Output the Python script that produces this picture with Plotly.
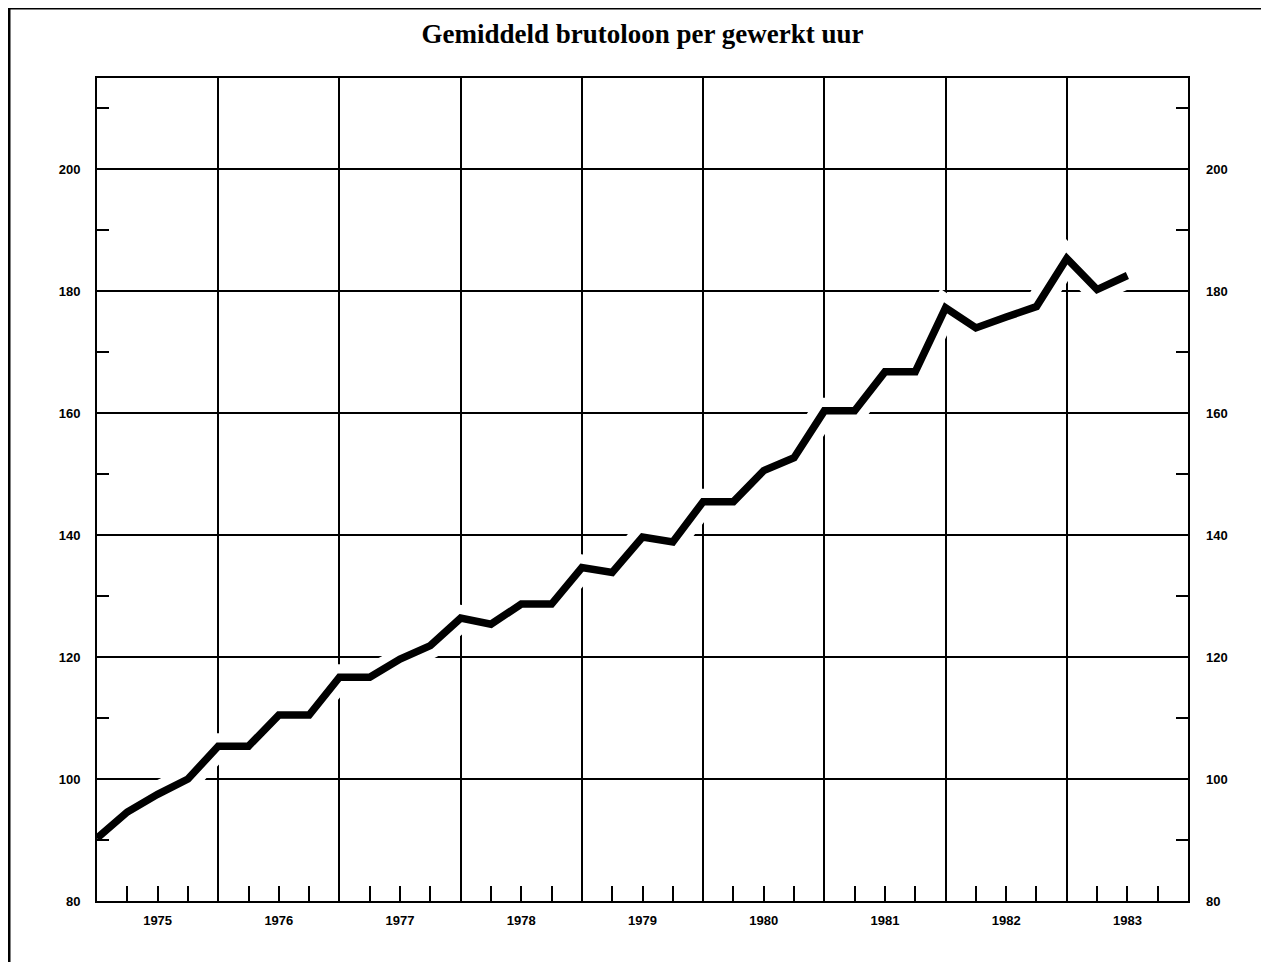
import plotly.graph_objects as go

# ---- data (quarterly, 1975 Q1 .. 1983 Q3) ----
years = list(range(1975, 1984))
quarters_per_year = 4
values = [90.3, 94.6, 97.5, 100.0,
          105.4, 105.4, 110.5, 110.5,
          116.7, 116.7, 119.7, 121.9,
          126.4, 125.4, 128.7, 128.7,
          134.7, 133.9, 139.7, 138.9,
          145.5, 145.5, 150.6, 152.7,
          160.4, 160.4, 166.8, 166.8,
          177.3, 174.0, 175.8, 177.5,
          185.4, 180.3, 182.6]
y_ticks = [80, 100, 120, 140, 160, 180, 200]
y_minor = [90, 110, 130, 150, 170, 190, 210]
title_text = "Gemiddeld brutoloon per gewerkt uur"

x_vals = [years[0] + i / quarters_per_year for i in range(len(values))]
year_bounds = years + [years[-1] + 1]
year_centers = [y + 0.5 for y in years]
quarter_ticks = [y + q / 4 for y in years for q in (1, 2, 3)]

FONT = "Liberation Sans, Arial, sans-serif"
TICKFONT = dict(family=FONT, size=13, color="black", weight="bold")

# page has an 8px body margin -> figure is 8px smaller than the window
W, H = 1261, 954
ML, MR, MT, MB = 89, 81, 70, 61

fig = go.Figure()
# white halo below the line (interrupts grid lines like the original)
fig.add_trace(go.Scatter(x=x_vals, y=values, mode="lines",
                         line=dict(color="white", width=26),
                         hoverinfo="skip", showlegend=False))
fig.add_trace(go.Scatter(x=x_vals, y=values, mode="lines", xaxis="x2", yaxis="y2",
                         line=dict(color="black", width=7.5),
                         showlegend=False))

fig.update_layout(
    width=W, height=H,
    paper_bgcolor="white", plot_bgcolor="white",
    margin=dict(l=ML, r=MR, t=MT, b=MB, autoexpand=False),
    showlegend=False,
    title=dict(text=title_text, x=0.5, xref="paper", xanchor="center",
               y=1 - 26 / H, yanchor="middle",
               font=dict(family="Liberation Serif, serif", size=27, color="black",
                         weight="bold")),
    xaxis=dict(range=[1975, 1984], tickmode="array", tickvals=year_bounds,
               ticktext=[""] * len(year_bounds), showticklabels=False,
               showgrid=True, gridcolor="black", gridwidth=1.5,
               ticks="", showline=True, mirror=True, linecolor="black", linewidth=2,
               zeroline=False,
               minor=dict(tickvals=quarter_ticks, ticks="inside", ticklen=15,
                          tickcolor="black", tickwidth=1.5, showgrid=False)),
    xaxis2=dict(range=[1975, 1984], overlaying="x", side="bottom", anchor="y2",
                tickmode="array", tickvals=year_centers, ticktext=[str(y) for y in years],
                showgrid=False, ticks="", showline=False, zeroline=False,
                ticklabelstandoff=10, tickfont=TICKFONT),
    yaxis=dict(range=[80, 215], tickmode="array", tickvals=y_ticks,
               ticktext=[str(v) for v in y_ticks],
               showgrid=True, gridcolor="black", gridwidth=1.5,
               ticks="", showline=True, mirror=True, linecolor="black", linewidth=2,
               zeroline=False, ticklabelstandoff=12, tickfont=TICKFONT,
               minor=dict(tickvals=y_minor, ticks="inside", ticklen=12,
                          tickcolor="black", tickwidth=1.5, showgrid=False)),
    yaxis2=dict(range=[80, 215], overlaying="y", side="right", anchor="x2",
                tickmode="array", tickvals=y_ticks, ticktext=[str(v) for v in y_ticks],
                showgrid=False, ticks="", showline=False, zeroline=False,
                ticklabelstandoff=17, tickfont=TICKFONT,
                minor=dict(tickvals=y_minor, ticks="inside", ticklen=12,
                           tickcolor="black", tickwidth=1.5, showgrid=False)),
)

# outer page frame (left and top thick border)
pw, ph = W - ML - MR, H - MT - MB
def px_to_paper_x(px):
    return (px - ML) / pw
def px_to_paper_y(py):
    return (H - MB - py) / ph

fig.add_shape(type="line", xref="paper", yref="paper",
              x0=px_to_paper_x(1), x1=px_to_paper_x(1),
              y0=px_to_paper_y(0), y1=px_to_paper_y(H + 10),
              line=dict(color="black", width=3))
fig.add_shape(type="line", xref="paper", yref="paper",
              x0=px_to_paper_x(0), x1=px_to_paper_x(W + 10),
              y0=px_to_paper_y(0), y1=px_to_paper_y(0),
              line=dict(color="black", width=3))

fig.write_html("out.html")
